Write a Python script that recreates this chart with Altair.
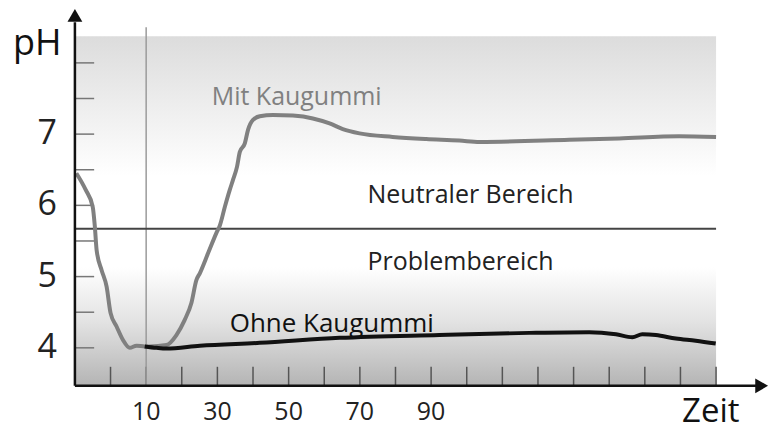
import altair as alt
import pandas as pd

# ---- data ----
mit_t = [-9.6, -7.0, -5.0, -4.4, -3.9, -2.5, -1.1, 0.0, 1.7, 3.5,
         5.4, 7.3, 9.6, 11.0, 15.7, 18.5, 20.8, 22.7, 24.1, 25.1,
         27.4, 29.7, 30.7, 32.1, 33.5, 34.4, 35.5, 36.3, 37.7, 38.6,
         40.0, 41.9, 45.6, 51.2, 56.8, 61.5, 65.2, 69.9, 79.2, 88.6,
         97.9, 103.6, 128.8, 142.8, 159.6, 170.0]
mit_ph = [6.45, 6.22, 5.98, 5.70, 5.37, 5.09, 4.86, 4.49, 4.30, 4.11,
          4.00, 4.03, 4.02, 4.02, 4.04, 4.18, 4.39, 4.63, 4.95, 5.05,
          5.33, 5.61, 5.72, 5.98, 6.22, 6.36, 6.54, 6.75, 6.87, 7.06,
          7.20, 7.25, 7.27, 7.26, 7.22, 7.15, 7.07, 7.01, 6.96, 6.93,
          6.91, 6.89, 6.92, 6.94, 6.97, 6.96]

ohne_t = [9.6, 12.9, 15.7, 25.1, 41.9, 64.3, 92.3, 117.6, 134.4, 141.9,
          146.5, 149.3, 153.1, 158.7, 164.3, 169.9]
ohne_ph = [4.02, 4.00, 3.99, 4.03, 4.07, 4.14, 4.18, 4.21, 4.22, 4.19,
           4.15, 4.19, 4.18, 4.13, 4.10, 4.06]

neutral_limit = 5.67
y_label_values = [4, 5, 6, 7]
y_tick_values = [4.0, 4.5, 5.0, 5.5, 6.0, 6.5, 7.0, 7.5, 8.0]
x_label_values = [10, 30, 50, 70, 90]
x_tick_values = list(range(0, 180, 10))
marker_time = 10

# ---- scales / frame ----
X_MIN, X_MAX = -10, 184.86
Y_MIN, Y_MAX = 3.4673, 8.7665
PLOT_X_END = 170
PLOT_Y_TOP = 8.374

xs = alt.Scale(domain=[X_MIN, X_MAX], nice=False, zero=False)
ys = alt.Scale(domain=[Y_MIN, Y_MAX], nice=False, zero=False)

FONT = "Open Sans"


def X(f):
    return alt.X(f, type="quantitative", scale=xs, axis=None)


def Y(f):
    return alt.Y(f, type="quantitative", scale=ys, axis=None)


bg = alt.Chart(pd.DataFrame({"x0": [X_MIN], "x1": [PLOT_X_END], "y0": [Y_MIN], "y1": [PLOT_Y_TOP]})).mark_rect(
    fill=alt.Gradient(
        gradient="linear", x1=0, y1=0, x2=0, y2=1,
        stops=[
            alt.GradientStop(color="#dcdcdc", offset=0),
            alt.GradientStop(color="#ffffff", offset=0.40),
            alt.GradientStop(color="#ffffff", offset=0.66),
            alt.GradientStop(color="#e2e2e2", offset=0.82),
            alt.GradientStop(color="#b4b4b4", offset=1),
        ],
    )
).encode(x=X("x0"), x2="x1", y=Y("y0"), y2="y1")

ytick_df = pd.DataFrame({"y": y_tick_values, "x0": X_MIN, "x1": X_MIN + 5.4})
yticks = alt.Chart(ytick_df).mark_rule(color="#777777", strokeWidth=1.5).encode(x=X("x0"), x2="x1", y=Y("y"))

xtick_df = pd.DataFrame({"x": x_tick_values, "y0": Y_MIN, "y1": 3.7336})
xticks = alt.Chart(xtick_df).mark_rule(color="#555555", strokeWidth=1.5).encode(x=X("x"), y=Y("y0"), y2="y1")

vline = alt.Chart(pd.DataFrame({"x": [marker_time], "y0": [Y_MIN], "y1": [8.5]})).mark_rule(
    color="#9a9a9a", strokeWidth=1.5).encode(x=X("x"), y=Y("y0"), y2="y1")

hline = alt.Chart(pd.DataFrame({"y": [neutral_limit], "x0": [X_MIN], "x1": [PLOT_X_END]})).mark_rule(
    color="#444444", strokeWidth=2).encode(x=X("x0"), x2="x1", y=Y("y"))

mit_df = pd.DataFrame({"t": mit_t, "ph": mit_ph})
mit_line = alt.Chart(mit_df).mark_line(color="#808080", strokeWidth=4, interpolate="monotone").encode(
    x=X("t"), y=Y("ph"))

ohne_df = pd.DataFrame({"t": ohne_t, "ph": ohne_ph})
ohne_line = alt.Chart(ohne_df).mark_line(color="#111111", strokeWidth=4, interpolate="monotone").encode(
    x=X("t"), y=Y("ph"))

# axes with arrows
yaxis = alt.Chart(pd.DataFrame({"x": [X_MIN], "y0": [Y_MIN], "y1": [8.57]})).mark_rule(
    color="#111111", strokeWidth=2.5).encode(x=X("x"), y=Y("y0"), y2="y1")
xaxis = alt.Chart(pd.DataFrame({"y": [Y_MIN], "x0": [X_MIN], "x1": [181.2]})).mark_rule(
    color="#111111", strokeWidth=2.5).encode(x=X("x0"), x2="x1", y=Y("y"))
yarrow = alt.Chart(pd.DataFrame({"x": [X_MIN], "y": [8.668]})).mark_point(
    shape="triangle-up", filled=True, color="#111111", size=220, opacity=1).encode(x=X("x"), y=Y("y"))
xarrow = alt.Chart(pd.DataFrame({"x": [182.8], "y": [Y_MIN]})).mark_point(
    shape="triangle-right", filled=True, color="#111111", size=220, opacity=1).encode(x=X("x"), y=Y("y"))

ylabels = alt.Chart(pd.DataFrame({"y": y_label_values, "x": X_MIN, "lab": [str(v) for v in y_label_values]})).mark_text(
    align="right", baseline="middle", dx=-18, font=FONT, fontSize=34, color="#222222").encode(
    x=X("x"), y=Y("y"), text="lab:N")

xlabels = alt.Chart(pd.DataFrame({"x": x_label_values, "y": 2.9906, "lab": [str(v) for v in x_label_values]})).mark_text(
    align="center", baseline="alphabetic", font=FONT, fontSize=25, color="#222222").encode(
    x=X("x"), y=Y("y"), text="lab:N")

ann = pd.DataFrame({
    "x": [28.41, 72.15, 72.15, 33.46, -27.38, 160.47],
    "y": [7.407, 6.028, 5.0935, 4.229, 8.108, 2.9626],
    "txt": ["Mit Kaugummi", "Neutraler Bereich", "Problembereich", "Ohne Kaugummi", "pH", "Zeit"],
    "col": ["#808080", "#222222", "#222222", "#111111", "#111111", "#111111"],
    "size": [25, 25, 25, 26, 36, 33],
})
annotations = alt.Chart(ann).mark_text(align="left", baseline="alphabetic", font=FONT).encode(
    x=X("x"), y=Y("y"), text="txt:N",
    color=alt.Color("col:N", scale=None),
    size=alt.Size("size:Q", scale=None))

chart = alt.layer(
    bg, yticks, xticks, vline, hline, mit_line, ohne_line, yaxis, xaxis, yarrow, xarrow,
    ylabels, xlabels, annotations
).properties(
    width=695, height=378,
    autosize=alt.AutoSizeParams(type="none"),
    padding={"left": 67, "top": 0, "right": 0, "bottom": 48},
    background="white",
).configure_view(stroke=None)

chart.save("out.html", embed_options={"renderer": "svg", "actions": False})
